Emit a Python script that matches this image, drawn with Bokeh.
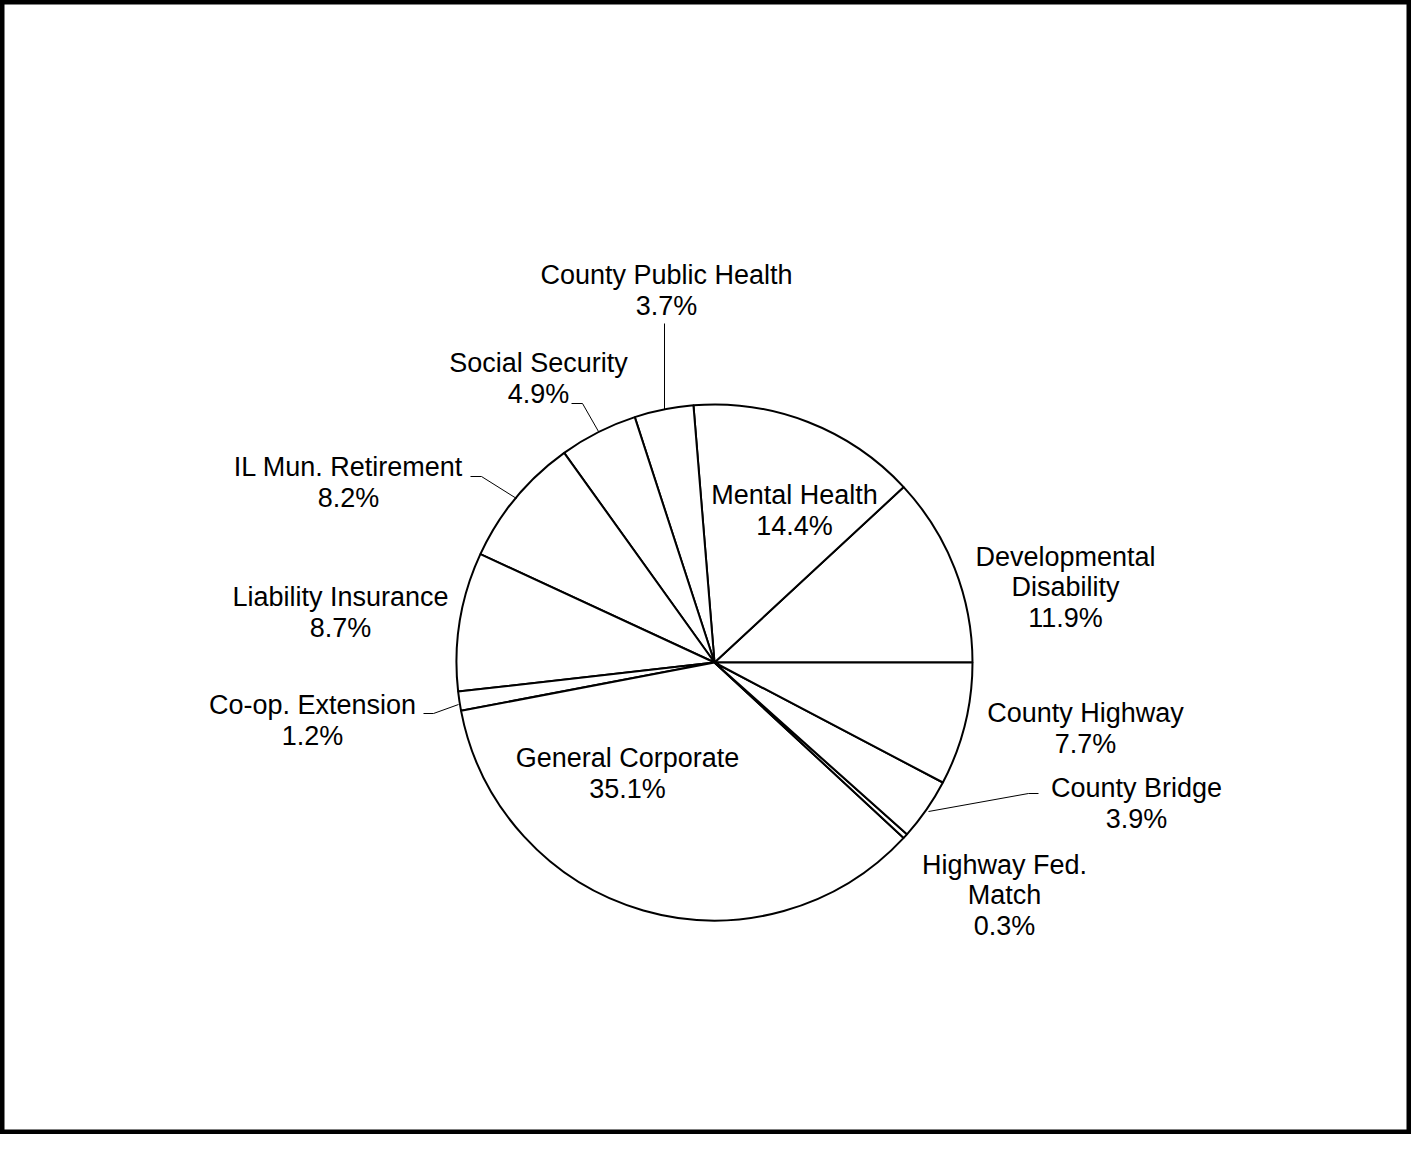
import numpy as np
from bokeh.plotting import figure
from bokeh.models import Range1d, ColumnDataSource
from bokeh.core.properties import value
from bokeh.embed import file_html
from bokeh.resources import INLINE

# Data (anticlockwise order starting at 3 o'clock)
categories = ["Developmental\nDisability", "Mental Health", "County Public Health",
              "Social Security", "IL Mun. Retirement", "Liability Insurance",
              "Co-op. Extension", "General Corporate", "Highway Fed.\nMatch",
              "County Bridge", "County Highway"]
shares = [11.9, 14.4, 3.7, 4.9, 8.2, 8.7, 1.2, 35.1, 0.3, 3.9, 7.7]

W, H = 1411, 1134
TOP = 1150  # screen y -> data y

def sy(y):
    return TOP - y

p = figure(width=W, height=H, output_backend="svg", toolbar_location=None,
           x_range=Range1d(0, W), y_range=Range1d(TOP - H, TOP),
           min_border=0)
p.axis.visible = False
p.grid.visible = False
p.outline_line_color = "black"
p.outline_line_width = 8
p.background_fill_color = "white"
p.border_fill_color = "white"

cx, cy, r = 714, sy(662), 258
frac = np.array(shares) / np.sum(shares)
ends = np.cumsum(frac) * 2 * np.pi
starts = np.concatenate([[0], ends[:-1]])
src = ColumnDataSource(dict(start=starts, end=ends))
p.wedge(x=cx, y=cy, radius=r, start_angle="start", end_angle="end", source=src,
        fill_color="white", line_color="black", line_width=2)

# Label layout (screen coordinates of label centres)
label_pos = [(1065, 587), (794, 510), (666, 290), (538, 378), (348, 482),
             (340, 612), (312, 720), (627, 773), (1004, 895), (1136, 803),
             (1085, 728)]
texts = [f"{c}\n{s:.1f}%" for c, s in zip(categories, shares)]
p.text(x=[q[0] for q in label_pos], y=[sy(q[1]) for q in label_pos], text=texts,
       text_align="center", text_baseline="middle", text_font=value("Liberation Sans"),
       text_font_size="27px", text_color="black", text_line_height=1.03)

# Leader lines
leaders = [
    [(664, 323), (664, 409)],
    [(571, 403), (582, 403), (598, 431)],
    [(470, 476), (481, 476), (516, 498)],
    [(423, 713), (433, 713), (458, 704)],
    [(1038, 793), (1028, 793), (928, 811)],
]
p.multi_line(xs=[[a[0] for a in L] for L in leaders],
             ys=[[sy(a[1]) for a in L] for L in leaders],
             line_color="black", line_width=1)

open("out.html", "w").write(file_html(p, INLINE))
